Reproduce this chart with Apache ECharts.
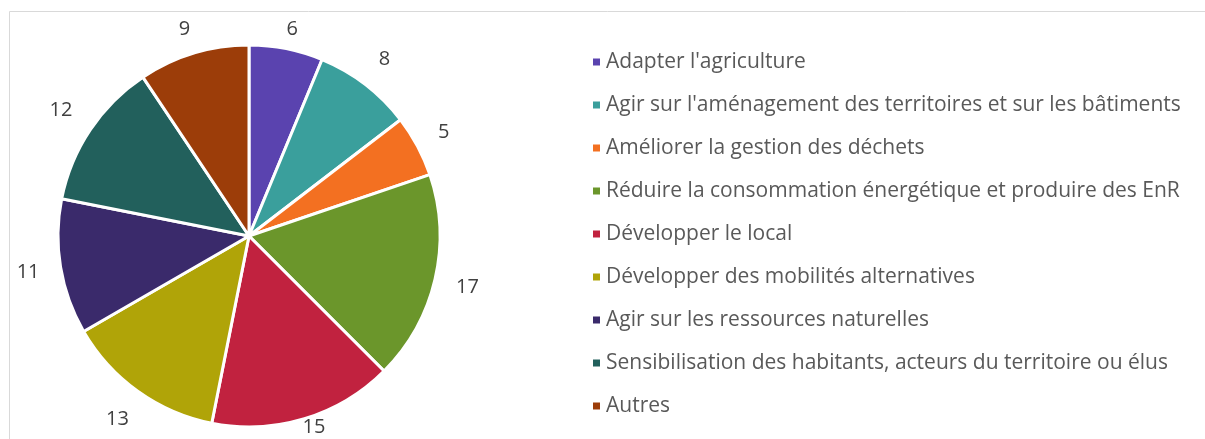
<!DOCTYPE html>
<html>
<head>
<meta charset="utf-8">
<script src="https://cdn.jsdelivr.net/npm/echarts@6/dist/echarts.min.js"></script>
<style>html,body{margin:0;padding:0;background:#fff}#c{width:1205px;height:439px}</style>
</head>
<body>
<div id="c"></div>
<script>
const categories = [
  "Adapter l'agriculture",
  "Agir sur l'aménagement des territoires et sur les bâtiments",
  "Améliorer la gestion des déchets",
  "Réduire la consommation énergétique et produire des EnR",
  "Développer le local",
  "Développer des mobilités alternatives",
  "Agir sur les ressources naturelles",
  "Sensibilisation des habitants, acteurs du territoire ou élus",
  "Autres"
];
const values = [6, 8, 5, 17, 15, 13, 11, 12, 9];
const colors = ['#5A43AF', '#3A9F9C', '#F37021', '#6B962B', '#C1223F', '#B0A408', '#3A2A6B', '#22605C', '#9C3D09'];

const CX = 249, CY = 236, R = 191, GAP = 20, LABEL_MIN_Y = 29, LABEL_MAX_Y = 427;
const total = values.reduce((a, b) => a + b, 0);
const midAngles = [];
{ let acc = 0; values.forEach(v => { midAngles.push((acc + v / 2) / total * 2 * Math.PI); acc += v; }); }

const chart = echarts.init(document.getElementById('c'));
chart.setOption({
  animation: false,
  color: colors,
  graphic: [{
    type: 'rect', silent: true,
    shape: { x: 9.5, y: 11.5, width: 1400, height: 600 },
    style: { fill: 'none', stroke: '#d9d9d9', lineWidth: 1 }
  }],
  legend: {
    orient: 'vertical',
    left: 586,
    top: 46,
    icon: 'rect',
    itemWidth: 9,
    itemHeight: 9,
    itemGap: 21,
    textStyle: { fontFamily: 'Open Sans', fontSize: 21, color: '#595959', lineHeight: 22 },
    data: categories
  },
  series: [{
    type: 'pie',
    center: [CX, CY],
    radius: [0, R],
    startAngle: 90,
    clockwise: true,
    avoidLabelOverlap: false,
    itemStyle: { borderColor: '#fff', borderWidth: 3 },
    label: {
      show: true, position: 'outside', formatter: '{c}',
      fontFamily: 'Open Sans', fontSize: 20, color: '#404040'
    },
    labelLine: { show: false, length: 18, length2: 0 },
    labelLayout: function (p) {
      const a = midAngles[p.dataIndex];
      const dx = Math.sin(a), dy = -Math.cos(a);
      const w = p.labelRect.width, h = p.labelRect.height;
      const ext = Math.abs(dx) * w / 2 + Math.abs(dy) * h / 2;
      const d = R + GAP + ext;
      let y = CY + dy * d;
      y = Math.min(Math.max(y, LABEL_MIN_Y), LABEL_MAX_Y);
      return { x: CX + dx * d, y: y, align: 'center', verticalAlign: 'middle' };
    },
    data: categories.map((n, i) => ({ name: n, value: values[i] }))
  }]
});
</script>
</body>
</html>
